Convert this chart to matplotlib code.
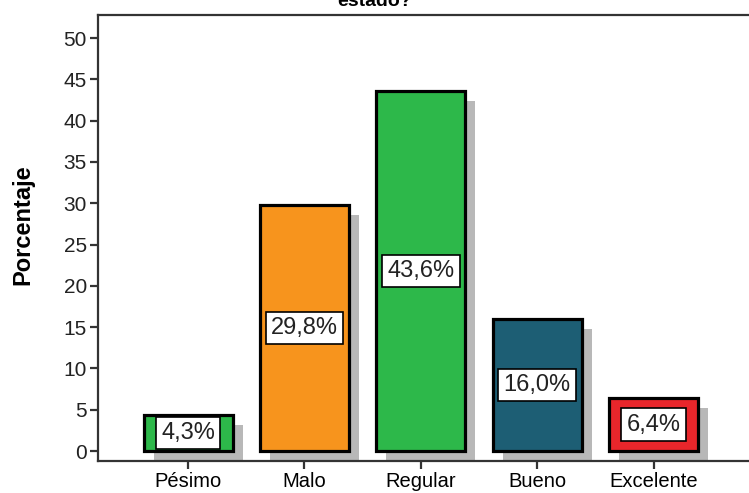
import matplotlib.pyplot as plt
import numpy as np

plt.rcParams['font.family'] = ['Liberation Sans', 'DejaVu Sans']

# Porcentajes por categoría
categorias = ["Pésimo", "Malo", "Regular", "Bueno", "Excelente"]
porcentajes = [4.3, 29.8, 43.6, 16.0, 6.4]
colores = ["#2db84a", "#f7941d", "#2db84a", "#1d5e74", "#e8262b"]
yticks = [0, 5, 10, 15, 20, 25, 30, 35, 40, 45, 50]

W, H = 749, 493
fig = plt.figure(figsize=(W / 100, H / 100), dpi=100)

# ejes un poco más anchos que la figura (el borde derecho queda fuera)
x0, x1 = 98, 770
y0, y1 = 15, 461
ax = fig.add_axes([x0 / W, 1 - y1 / H, (x1 - x0) / W, (y1 - y0) / H])

xmin, xmax = -0.774, 5.0
ymin, ymax = -1.21, 52.8
ax.set_xlim(xmin, xmax)
ax.set_ylim(ymin, ymax)

x = np.arange(len(categorias))
ancho = 0.765

# sombra gris desplazada
px_x = (xmax - xmin) / (x1 - x0)
px_y = (ymax - ymin) / (y1 - y0)
ax.bar(x + 10 * px_x, porcentajes, width=ancho, bottom=-10 * px_y,
       color="#b8b8b8", edgecolor="none", zorder=1)

ax.bar(x, porcentajes, width=ancho, color=colores, edgecolor="black",
       linewidth=2.3, zorder=2)

for xi, v in zip(x, porcentajes):
    ax.text(xi, v / 2, f"{v:.1f}%".replace(".", ","), ha="center", va="center",
            fontsize=17, color="#222222", zorder=3,
            bbox=dict(boxstyle="square,pad=0.22", facecolor="white",
                      edgecolor="black", linewidth=1.2))

ax.set_xticks(x)
ax.set_xticklabels(categorias, fontsize=14.5)
ax.set_yticks(yticks)
ax.set_yticklabels([str(t) for t in yticks], fontsize=15, color="#222222")
ax.tick_params(axis="both", length=6, width=1.6, color="#333333", pad=2)

for s in ax.spines.values():
    s.set_linewidth(1.6)
    s.set_color("#333333")

fig.text(23 / W, 1 - 225 / H, "Porcentaje", rotation=90, ha="center",
         va="center", fontsize=17, fontweight="bold")

# título (la primera línea queda fuera del lienzo)
fig.text(375 / W, 1 - 6 / H, "estado?", ha="center", va="baseline",
         fontsize=14, fontweight="bold")

fig.savefig("out.png", dpi=100)
